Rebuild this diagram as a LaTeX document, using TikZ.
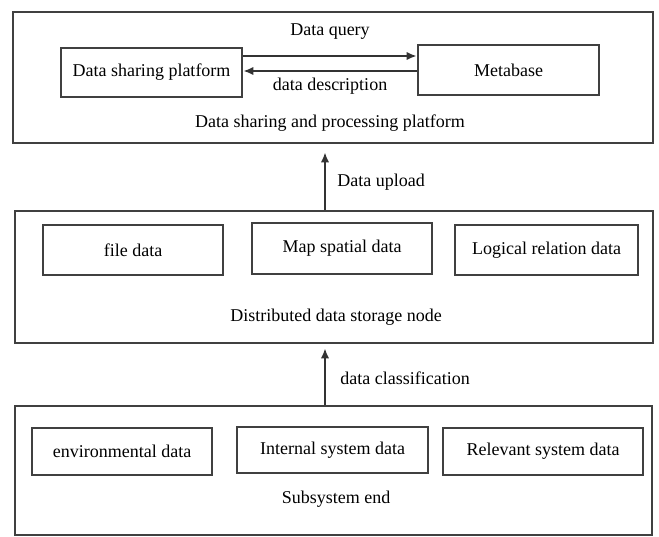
\documentclass[tikz,border=0pt]{standalone}
\usepackage{fontspec}
\setmainfont{Liberation Serif}
\usetikzlibrary{arrows.meta}
\begin{document}
\begin{tikzpicture}[x=0.5pt,y=-0.5pt,
  frame/.style={draw=black!75,line width=1.3pt,inner sep=0pt},
  inbox/.style={draw=black!75,line width=1.3pt,inner sep=0pt,font=\fontsize{9}{11}\selectfont},
  txt/.style={inner sep=0pt,font=\fontsize{9}{11}\selectfont},
  arr/.style={draw=black!80,line width=1pt,-{Latex[length=5pt,width=4.2pt]}}]
\useasboundingbox (0,0) rectangle (659,536);
% top layer
\node[frame,minimum width=320pt,minimum height=65.5pt] (top) at (333,77.5) {};
\node[inbox,minimum width=90.5pt,minimum height=24.5pt] (dsp) at (151.5,72.5) {Data sharing platform};
\node[inbox,minimum width=90.5pt,minimum height=25pt] (meta) at (508.5,70) {Metabase};
\node[txt] (dq) at (330,32) {Data query};
\node[txt] (dd) at (330,86) {data description};
\node[txt] (tt) at (330,123) {Data sharing and processing platform};
\coordinate (qy) at (0,56);
\coordinate (dy) at (0,71);
\draw[arr] (dsp.east |- qy) -- (meta.west |- qy);
\draw[arr] (meta.west |- dy) -- (dsp.east |- dy);
% middle layer
\node[frame,minimum width=319pt,minimum height=66pt] (mid) at (334,277) {};
\node[inbox,minimum width=90pt,minimum height=25pt] (file) at (133,250) {file data};
\node[inbox,minimum width=90pt,minimum height=25.5pt] (map) at (342,248.5) {Map spatial data};
\node[inbox,minimum width=91.5pt,minimum height=25pt] (logic) at (546.5,250) {Logical relation data};
\node[txt] (mt) at (336,317) {Distributed data storage node};
% bottom layer
\node[frame,minimum width=318.5pt,minimum height=64.5pt] (bot) at (333.5,470.5) {};
\node[inbox,minimum width=90pt,minimum height=23.5pt] (env) at (122,451.5) {environmental data};
\node[inbox,minimum width=95.5pt,minimum height=23pt] (int) at (332.5,450) {Internal system data};
\node[inbox,minimum width=100pt,minimum height=23.5pt] (rel) at (543,451.5) {Relevant system data};
\node[txt] (bt) at (336,499) {Subsystem end};
% vertical arrows
\coordinate (ux) at (325,0);
\draw[arr,shorten >=4pt] (mid.north -| ux) -- (top.south -| ux);
\node[txt,anchor=west] (ul) at (337,182) {Data upload};
\draw[arr,shorten >=2pt] (bot.north -| ux) -- (mid.south -| ux);
\node[txt,anchor=west] (cl) at (340,378) {data classification};
\end{tikzpicture}
\end{document}
